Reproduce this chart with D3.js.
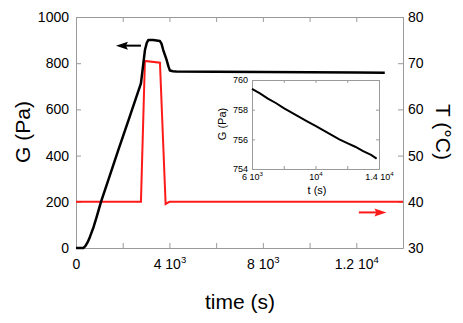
<!DOCTYPE html>
<html>
<head>
<meta charset="UTF-8">
<script src="https://d3js.org/d3.v7.min.js"></script>
<style>
    body { margin: 0; background: #fff; }
    text { font-family: "Liberation Sans", Arial, sans-serif; fill: #000; }
</style>
</head>
<body>
<svg id="chart" width="463" height="323"></svg>
<script>
// main curve G(t)
const gTime = [0, 150, 312, 400, 500, 600, 750, 885, 1070, 1382, 1810, 2300, 2780, 2860, 2952, 3030, 3094, 3300, 3594, 3660, 3735, 3880, 3960, 4021, 4150, 4300, 6000, 8000, 10000, 12000, 13220];
const gVal  = [0, 0,   0,   8,   25,  49,  90,  135, 200,  294,  424,  569,  713,  780,  857,  888,  900,  900,  896,  885,  857,  814,  785,  768,  765,  764,  763,  762,  761,  760,  759];
// temperature T(t)
const tTime = [0, 2780, 2950, 3594, 3837, 3900, 4000, 14000];
const tVal  = [40, 40,  70.5, 70.1, 39.5, 39.7, 40,  40];
// inset G(t) zoom
const inTime = [6000, 6500, 7000, 7500, 8000, 8500, 9000, 9500, 10000, 10500, 11000, 11500, 12000, 12500, 13000, 13500, 13850];
const inVal  = [759.4, 759.1, 758.75, 758.45, 758.1, 757.8, 757.5, 757.2, 756.9, 756.6, 756.3, 756.0, 755.75, 755.5, 755.2, 754.95, 754.7];

const xTicks = [0, 2000, 4000, 6000, 8000, 10000, 12000, 14000];
const xLabels = {0: ["0", ""], 4000: ["4 10", "3"], 8000: ["8 10", "3"], 12000: ["1.2 10", "4"]};
const gTicks = [0, 200, 400, 600, 800, 1000];
const tTicks = [30, 40, 50, 60, 70, 80];
const inXTicks = [6000, 8000, 10000, 12000, 14000];
const inXLabels = {6000: ["6 10", "3"], 10000: ["10", "4"], 14000: ["1.4 10", "4"]};
const inYTicks = [754, 756, 758, 760];

const svg = d3.select("#chart");
const axisColor = "#9a9a9a";
const m = {left: 76, top: 17, right: 403, bottom: 248};

const x = d3.scaleLinear().domain([0, 14000]).range([m.left, m.right]);
const yG = d3.scaleLinear().domain([0, 1000]).range([m.bottom, m.top]);
const yT = d3.scaleLinear().domain([30, 80]).range([m.bottom, m.top]);
const fmt = d3.format("d");

function styleAxis(g, size) {
    g.select(".domain").attr("stroke", axisColor);
    g.selectAll(".tick line").attr("stroke", axisColor);
    g.selectAll(".tick text").attr("font-size", size).attr("fill", "#000")
        .attr("font-family", "'Liberation Sans', Arial, sans-serif");
}

function supLabel(sel, map, fs) {
    sel.each(function (d) {
        const t = d3.select(this);
        t.text(null);
        const lab = map[d];
        if (!lab) return;
        t.append("tspan").text(lab[0]);
        if (lab[1]) t.append("tspan").attr("dy", -fs * 0.45).attr("font-size", fs * 0.68).text(lab[1]);
    });
}

// main frame axes
svg.append("g").attr("transform", `translate(0,${m.bottom})`)
    .call(d3.axisBottom(x).tickValues(xTicks).tickSizeInner(-5).tickSizeOuter(0).tickPadding(11))
    .call(g => styleAxis(g, 14))
    .call(g => supLabel(g.selectAll(".tick text"), xLabels, 14));
svg.append("g").attr("transform", `translate(0,${m.top})`)
    .call(d3.axisTop(x).tickValues(xTicks).tickSizeInner(-5).tickSizeOuter(0).tickFormat(""))
    .call(g => styleAxis(g, 14));
svg.append("g").attr("transform", `translate(${m.left},0)`)
    .call(d3.axisLeft(yG).tickValues(gTicks).tickFormat(fmt).tickSizeInner(-5).tickSizeOuter(0).tickPadding(7))
    .call(g => styleAxis(g, 14));
svg.append("g").attr("transform", `translate(${m.right},0)`)
    .call(d3.axisRight(yT).tickValues(tTicks).tickFormat(fmt).tickSizeInner(-5).tickSizeOuter(0).tickPadding(5))
    .call(g => styleAxis(g, 14));

// lines
const gLine = d3.line().x((d, i) => x(gTime[i])).y(d => yG(d));
const tLine = d3.line().x((d, i) => x(tTime[i])).y(d => yT(d));

svg.append("path").datum(tVal).attr("d", tLine)
    .attr("fill", "none").attr("stroke", "#ff1a1a").attr("stroke-width", 2);
svg.append("path").datum(gVal).attr("d", gLine)
    .attr("fill", "none").attr("stroke", "#000").attr("stroke-width", 2.5)
    .attr("stroke-linejoin", "round");

// arrows
function arrow(x1, x2, y, color) {
    const dir = Math.sign(x2 - x1);
    svg.append("line").attr("x1", x1).attr("x2", x2 - dir * 8).attr("y1", y).attr("y2", y)
        .attr("stroke", color).attr("stroke-width", 2);
    svg.append("path")
        .attr("d", `M${x2},${y} L${x2 - dir * 12},${y - 4} L${x2 - dir * 10},${y} L${x2 - dir * 12},${y + 4} Z`)
        .attr("fill", color);
}
arrow(x(2780), x(1710), yG(876), "#000");
arrow(x(12110), x(13290), yT(37.7), "#ff1a1a");

// axis titles
svg.append("text").attr("transform", "translate(30,132) rotate(-90)")
    .attr("text-anchor", "middle").attr("font-size", 21).text("G (Pa)");
svg.append("text").attr("transform", "translate(436,132) rotate(90)")
    .attr("text-anchor", "middle").attr("font-size", 21).text("T (°C)");
svg.append("text").attr("x", 240).attr("y", 309)
    .attr("text-anchor", "middle").attr("font-size", 21).text("time (s)");

// inset
const ins = {left: 252, top: 80, right: 379, bottom: 169};
const xi = d3.scaleLinear().domain([6000, 14000]).range([ins.left, ins.right]);
const yi = d3.scaleLinear().domain([754, 760]).range([ins.bottom, ins.top]);

svg.append("rect").attr("x", ins.left).attr("y", ins.top)
    .attr("width", ins.right - ins.left).attr("height", ins.bottom - ins.top)
    .attr("fill", "#fff");
svg.append("g").attr("transform", `translate(0,${ins.bottom})`)
    .call(d3.axisBottom(xi).tickValues(inXTicks).tickSizeInner(-3).tickSizeOuter(0).tickPadding(5))
    .call(g => styleAxis(g, 9))
    .call(g => supLabel(g.selectAll(".tick text"), inXLabels, 9));
svg.append("g").attr("transform", `translate(0,${ins.top})`)
    .call(d3.axisTop(xi).tickValues(inXTicks).tickSizeInner(-3).tickSizeOuter(0).tickFormat(""))
    .call(g => styleAxis(g, 9));
svg.append("g").attr("transform", `translate(${ins.left},0)`)
    .call(d3.axisLeft(yi).tickValues(inYTicks).tickFormat(fmt).tickSizeInner(-3).tickSizeOuter(0).tickPadding(4))
    .call(g => styleAxis(g, 9));
svg.append("g").attr("transform", `translate(${ins.right},0)`)
    .call(d3.axisRight(yi).tickValues(inYTicks).tickSizeInner(-3).tickSizeOuter(0).tickFormat(""))
    .call(g => styleAxis(g, 9));

const iLine = d3.line().x((d, i) => xi(inTime[i])).y(d => yi(d));
svg.append("path").datum(inVal).attr("d", iLine)
    .attr("fill", "none").attr("stroke", "#000").attr("stroke-width", 2);

svg.append("text").attr("transform", "translate(226,124) rotate(-90)")
    .attr("text-anchor", "middle").attr("font-size", 11).text("G (Pa)");
svg.append("text").attr("x", 317).attr("y", 194)
    .attr("text-anchor", "middle").attr("font-size", 11).text("t (s)");
</script>
</body>
</html>
